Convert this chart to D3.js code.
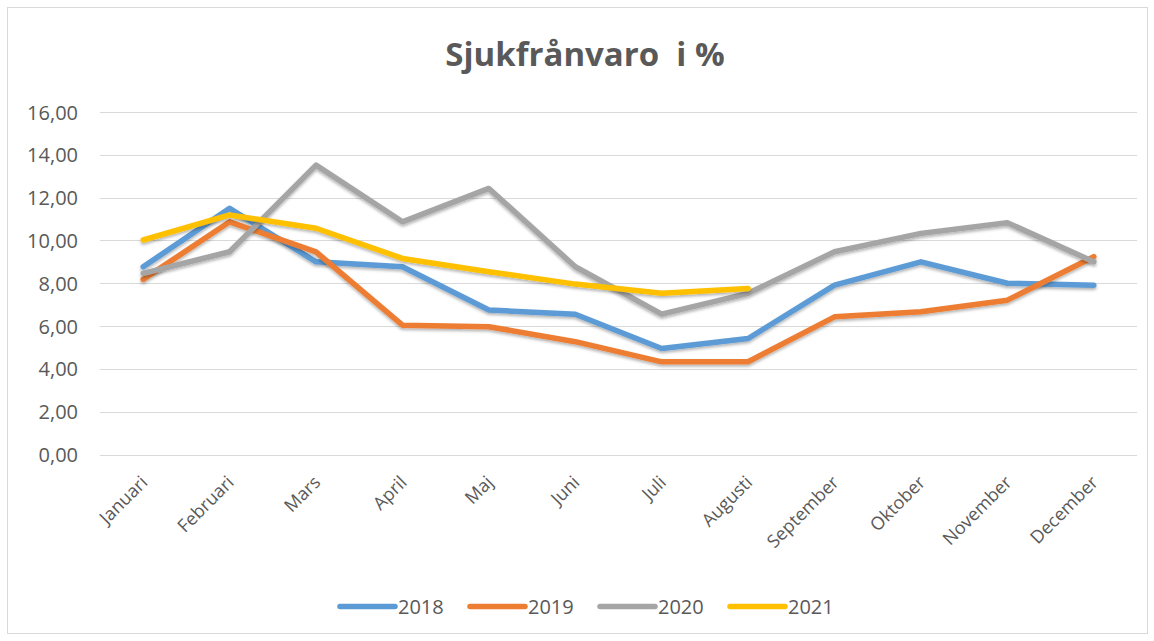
<!DOCTYPE html>
<html><head><meta charset="utf-8">
<script src="https://cdn.jsdelivr.net/npm/d3@7"></script>
<style>body{margin:0;background:#fff;} svg{display:block;font-family:"Open Sans","Liberation Sans",sans-serif;}</style>
</head><body>
<svg id="c" width="1154" height="641"></svg>
<script>
const months = ["Januari","Februari","Mars","April","Maj","Juni","Juli","Augusti","September","Oktober","November","December"];
const s2018 = [8.77,11.5,9.0,8.77,6.75,6.55,4.95,5.42,7.91,9.0,8.0,7.91];
const s2019 = [8.18,10.87,9.47,6.04,5.97,5.27,4.33,4.33,6.43,6.67,7.21,9.24];
const s2020 = [8.46,9.47,13.52,10.87,12.43,8.77,6.56,7.53,9.47,10.33,10.83,9.0];
const s2021 = [10.02,11.19,10.57,9.16,8.54,7.96,7.53,7.76];
const yTicks = [0,2,4,6,8,10,12,14,16];
const seriesNames = ["2018","2019","2020","2021"];
const seriesColors = ["#5B9BD5","#ED7D31","#A5A5A5","#FFC000"];
const seriesValues = [s2018,s2019,s2020,s2021];

const svg = d3.select("#c");
const defs = svg.append("defs");
const f = defs.append("filter").attr("id","sh").attr("x","-5%").attr("y","-5%").attr("width","110%").attr("height","120%");
f.append("feDropShadow").attr("dx",0).attr("dy",2).attr("stdDeviation",1.5).attr("flood-color","#000").attr("flood-opacity",0.3);

svg.append("rect").attr("x",7.5).attr("y",7.5).attr("width",1140).attr("height",626).attr("fill","#fff").attr("stroke","#d9d9d9");

svg.append("text").attr("x",585).attr("y",66).attr("text-anchor","middle")
  .attr("font-size",33).attr("font-weight","bold").attr("fill","#595959").style("white-space","pre").text("Sjukfrånvaro  i %");

const x = d3.scaleBand().domain(months).range([100,1137]);
const y = d3.scaleLinear().domain([0,16]).range([454.5,112]);

const grid = svg.append("g");
grid.selectAll("line").data(yTicks).join("line")
  .attr("x1",100).attr("x2",1137).attr("y1",d=>Math.round(y(d))+0.5).attr("y2",d=>Math.round(y(d))+0.5)
  .attr("stroke","#d9d9d9").attr("stroke-width",1.2);

const yAxis = svg.append("g").attr("transform","translate(78,0)")
  .call(d3.axisLeft(y).tickValues(yTicks).tickSize(0).tickPadding(0).tickFormat(d=>d3.format(".2f")(d).replace(".",",")));
yAxis.select(".domain").remove();
yAxis.selectAll("text").attr("font-size",20).attr("fill","#595959").attr("font-family","'Open Sans',sans-serif").attr("dy","0.35em");

const xAxis = svg.append("g").attr("transform","translate(0,479)")
  .call(d3.axisBottom(x).tickSize(0).tickPadding(0));
xAxis.select(".domain").remove();
xAxis.selectAll("text").attr("font-size",18).attr("fill","#595959").attr("font-family","'Open Sans',sans-serif")
  .attr("text-anchor","end").attr("y",0).attr("dy","0.35em")
  .attr("transform","translate(1,0) rotate(-45)");

const line = d3.line().x((d,i)=>x(months[i])+x.bandwidth()/2).y(d=>y(d));
seriesValues.forEach((vals,k)=>{
  svg.append("path").datum(vals).attr("d",line).attr("fill","none")
    .attr("stroke",seriesColors[k]).attr("stroke-width",5.5).attr("stroke-linejoin","round").attr("stroke-linecap","round")
    .attr("filter","url(#sh)");
});

const lg = svg.append("g");
seriesNames.forEach((n,k)=>{
  const x0 = 340 + k*130;
  lg.append("line").attr("x1",x0).attr("x2",x0+55).attr("y1",606.5).attr("y2",606.5)
    .attr("stroke",seriesColors[k]).attr("stroke-width",5.5).attr("stroke-linecap","round");
  lg.append("text").attr("x",x0+58).attr("y",613.5).attr("font-size",20).attr("fill","#595959").text(n);
});
</script>
</body></html>
